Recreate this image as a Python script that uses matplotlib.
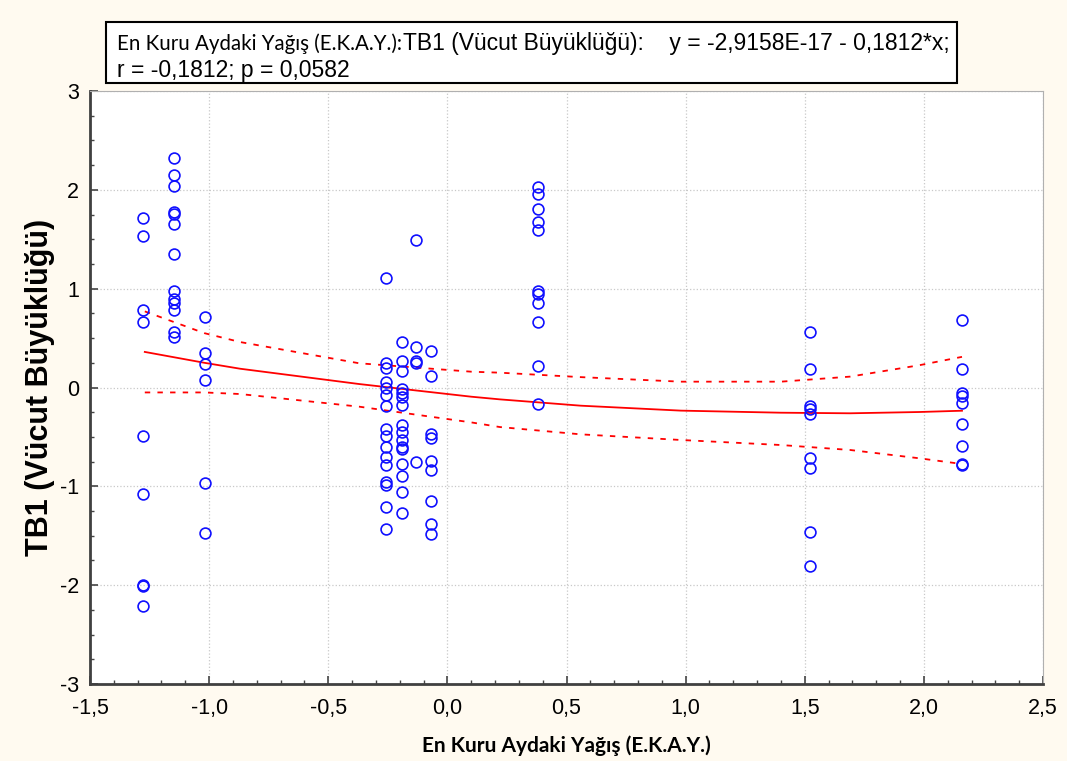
import matplotlib
matplotlib.use("Agg")
import matplotlib.pyplot as plt
from matplotlib.patches import Rectangle
from matplotlib.ticker import MultipleLocator, FuncFormatter

# ---- data ----
x_levels = [-1.276, -1.146, -1.019, -0.256, -0.192, -0.131, -0.068, 0.379, 1.522, 2.160]
y_col1 = [1.715, 1.533, 0.781, 0.660, -0.488, -1.081, -1.998, -2.008, -2.211]
y_col2 = [2.322, 2.153, 2.042, 1.776, 1.756, 1.651, 1.354, 0.980, 0.892, 0.852, 0.781, 0.558, 0.508]
y_col3 = [0.713, 0.346, 0.241, 0.076, -0.966, -1.469]
y_col4 = [1.108, 0.251, 0.200, 0.052, -0.008, -0.073, -0.187, -0.417, -0.491, -0.602, -0.706, -0.787,
          -0.953, -0.987, -1.212, -1.429]
y_col5 = [0.463, 0.265, 0.167, -0.012, -0.056, -0.099, -0.177, -0.379, -0.447, -0.531, -0.599, -0.625,
          -0.777, -0.892, -1.061, -1.273]
y_col6 = [1.489, 0.407, 0.268, 0.251, -0.751]
y_col7 = [0.369, 0.116, -0.467, -0.511, -0.741, -0.832, -1.148, -1.384, -1.482]
y_col8 = [2.032, 1.958, 1.806, 1.672, 1.594, 0.980, 0.946, 0.852, 0.666, 0.218, -0.170]
y_col9 = [0.559, 0.190, -0.184, -0.221, -0.265, -0.710, -0.811, -1.459, -1.803]
y_col10 = [0.683, 0.190, -0.059, -0.090, -0.157, -0.372, -0.592, -0.774, -0.780]
y_columns = [y_col1, y_col2, y_col3, y_col4, y_col5, y_col6, y_col7, y_col8, y_col9, y_col10]

# fitted curve and confidence band as drawn in the picture
fit_x = [-1.27, -1.02, -0.87, -0.37, 0.10, 0.22, 0.56, 0.98, 1.40, 1.69, 1.98, 2.16]
fit_y = [0.36, 0.25, 0.19, 0.035, -0.093, -0.12, -0.184, -0.234, -0.255, -0.261, -0.248, -0.235]
upper_y = [0.77, 0.55, 0.46, 0.245, 0.16, 0.15, 0.105, 0.059, 0.059, 0.11, 0.225, 0.31]
lower_y = [-0.05, -0.05, -0.066, -0.194, -0.353, -0.40, -0.474, -0.531, -0.582, -0.632, -0.716, -0.774]

x_ticks = [-1.5, -1.0, -0.5, 0.0, 0.5, 1.0, 1.5, 2.0, 2.5]
y_ticks = [-3, -2, -1, 0, 1, 2, 3]

title_part1 = "En Kuru Aydaki Yağış (E.K.A.Y.):"
title_part2 = "TB1 (Vücut Büyüklüğü):    y = -2,9158E-17 - 0,1812*x;"
title_line2 = "r = -0,1812; p = 0,0582"
x_label = "En Kuru Aydaki Yağış (E.K.A.Y.)"
y_label = "TB1 (Vücut Büyüklüğü)"

# ---- figure ----
W, H = 1067, 761
bg = "#FFFAF0"
fig = plt.figure(figsize=(W / 100, H / 100), dpi=100, facecolor=bg)
ax = fig.add_axes([90 / W, 1 - 684 / H, (1043 - 90) / W, (684 - 91) / H])
ax.set_facecolor("white")

for xv, ys in zip(x_levels, y_columns):
    ax.plot([xv] * len(ys), ys, linestyle="none", marker="o", markersize=7.8,
            markerfacecolor="none", markeredgecolor="#1010FF", markeredgewidth=1.2, zorder=3)

ax.plot(fit_x, fit_y, color="#FF0000", lw=1.3, zorder=2)
ax.plot(fit_x, upper_y, color="#FF0000", lw=1.3, ls=(0, (3, 4)), zorder=2)
ax.plot(fit_x, lower_y, color="#FF0000", lw=1.3, ls=(0, (3, 4)), zorder=2)

ax.set_xlim(-1.5, 2.5)
ax.set_ylim(-3, 3)
ax.set_xticks(x_ticks)
ax.set_yticks(y_ticks)
ax.xaxis.set_minor_locator(MultipleLocator(0.1))
ax.yaxis.set_minor_locator(MultipleLocator(0.25))
ax.xaxis.set_major_formatter(FuncFormatter(lambda v, p: f"{v:.1f}".replace(".", ",")))
ax.yaxis.set_major_formatter(FuncFormatter(lambda v, p: f"{int(round(v))}"))

tick_font = "Liberation Sans"
for lab in ax.get_xticklabels() + ax.get_yticklabels():
    lab.set_fontfamily(tick_font)
    lab.set_fontsize(15.5)
ax.tick_params(which="both", direction="in", top=False, right=False, color="#444444")
ax.tick_params(which="major", length=6, width=1.2)
ax.tick_params(which="minor", length=3, width=1.0)
ax.tick_params(axis="x", pad=10)
ax.tick_params(axis="y", pad=8)

ax.grid(True, which="major", color="#C8C8C8", ls=":", lw=0.9)
for side in ["left", "bottom"]:
    ax.spines[side].set_color("#404040")
    ax.spines[side].set_linewidth(2.0)
for side in ["top", "right"]:
    ax.spines[side].set_color("#B0B0B0")
    ax.spines[side].set_linewidth(0.8)

ax.set_xlabel(x_label, fontfamily="Lato", fontweight="bold", fontsize=15, labelpad=12)
ax.set_ylabel(y_label, fontfamily="Liberation Sans", fontweight="bold", fontsize=22, labelpad=3)

# ---- title box ----
fig.patches.append(Rectangle((106 / W, 1 - 83 / H), (957 - 106) / W, (83 - 22) / H,
                             transform=fig.transFigure, facecolor="white", edgecolor="black",
                             lw=1.5, zorder=0))
t1 = fig.text(117 / W, 1 - 50 / H, title_part1, fontfamily="Lato", fontsize=14.8,
              va="baseline", ha="left")
fig.canvas.draw()
bb = t1.get_window_extent()
fig.text((bb.x1 + 1) / W, 1 - 50 / H, title_part2, fontfamily="Liberation Sans",
         fontsize=16.5, va="baseline", ha="left")
fig.text(117 / W, 1 - 77 / H, title_line2, fontfamily="Liberation Sans", fontsize=16.5,
         va="baseline", ha="left")

fig.savefig("out.png", dpi=100, facecolor=bg)
